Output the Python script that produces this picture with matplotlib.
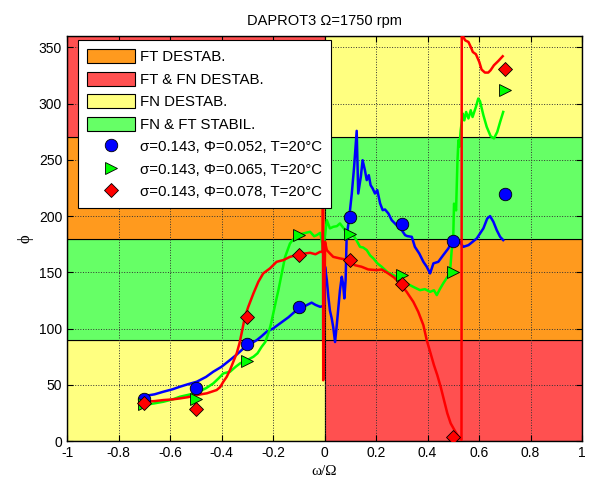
import numpy as np
import matplotlib
matplotlib.use('Agg')
import matplotlib.pyplot as plt
from matplotlib.patches import Rectangle, Patch
from matplotlib.lines import Line2D

plt.rcParams['font.family'] = ['Liberation Sans', 'DejaVu Sans']

# stability bands (phi limits) and their colours on each side of omega/Omega = 0
band_edges = [0, 90, 180, 270, 360]
orange = '#FF9A1E'
red = '#FF5050'
yellow = '#FFFF80'
green = '#66FF66'
left_colors = [yellow, green, orange, red]
right_colors = [red, orange, green, yellow]

band_labels = ['FT DESTAB.', 'FT & FN DESTAB.', 'FN DESTAB.', 'FN & FT STABIL.']
band_label_colors = [orange, red, yellow, green]

# measured markers
x_pts = [-0.7, -0.5, -0.3, -0.1, 0.1, 0.3, 0.5, 0.7]
phi_052 = [37, 47.4, 86.2, 119, 198.7, 192.5, 177.7, 219.4]
phi_065 = [32.9, 37.3, 71, 183.3, 183.9, 147.2, 149.8, 311.8]
phi_078 = [33.5, 28.4, 110.4, 165.2, 160.8, 139.5, 3.9, 331]

# continuous phase traces
blue_x = [-0.70, -0.66, -0.626, -0.59, -0.561, -0.53, -0.496, -0.46, -0.432, -0.40,
          -0.367, -0.34, -0.315, -0.29, -0.263, -0.245, -0.225, -0.20, -0.173, -0.14,
          -0.108, -0.09, -0.069, -0.05, -0.035, -0.017, -0.005, 0.0, 0.002, 0.009,
          0.015, 0.021, 0.028, 0.034, 0.041, 0.047, 0.060, 0.067, 0.072, 0.077,
          0.082, 0.086, 0.096, 0.106, 0.115, 0.125, 0.131, 0.141, 0.148, 0.157,
          0.164, 0.172, 0.179, 0.187, 0.196, 0.205, 0.216, 0.226, 0.235, 0.248,
          0.261, 0.280, 0.300, 0.313, 0.322, 0.339, 0.351, 0.368, 0.384, 0.397,
          0.410, 0.423, 0.442, 0.461, 0.481, 0.494, 0.50, 0.520, 0.539, 0.559,
          0.591, 0.617, 0.632, 0.643, 0.656, 0.669, 0.682, 0.694]
blue_y = [40, 41.5, 43.8, 46, 48.3, 50.5, 52.7, 57, 61.6, 66,
          72, 77, 82.3, 86, 89.7, 93, 97.1, 100, 104.5, 110,
          116.4, 118, 120.8, 123, 121, 119.3, 120, 122, 155, 143,
          128, 116, 109, 101, 88, 101.5, 134, 146, 140, 126.8,
          143, 181.5, 198.7, 220, 243.7, 275.7, 220, 234.8, 249.6, 240.7,
          231.9, 236.3, 227.4, 224.5, 220, 223, 211.2, 205.2, 205.8, 202.3,
          196.3, 191.9, 187.4, 183, 182.1, 181.5, 172.6, 166.7, 159.3, 154.9,
          149, 157.9, 159.3, 165.2, 171.2, 177, 178, 178.6, 172.6, 174.1,
          180, 189, 197.8, 199.9, 194.8, 187.4, 181.5, 178.6]

green_x = [-0.704, -0.66, -0.626, -0.59, -0.561, -0.53, -0.496, -0.46, -0.432, -0.41,
           -0.393, -0.367, -0.345, -0.328, -0.30, -0.276, -0.26, -0.244, -0.23, -0.218,
           -0.208, -0.199, -0.189, -0.179, -0.166, -0.153, -0.134, -0.108, -0.082, -0.056,
           -0.040, -0.030, -0.017, -0.011, -0.005, 0.003, 0.009, 0.021, 0.034, 0.048,
           0.060, 0.075, 0.086, 0.112, 0.125, 0.138, 0.150, 0.164, 0.177, 0.190,
           0.205, 0.222, 0.245, 0.267, 0.290, 0.319, 0.345, 0.371, 0.390, 0.410,
           0.425, 0.436, 0.448, 0.461, 0.475, 0.487, 0.494, 0.500, 0.503, 0.511,
           0.516, 0.520, 0.524, 0.529, 0.537, 0.543, 0.550, 0.559, 0.568, 0.575,
           0.588, 0.597, 0.604, 0.617, 0.630, 0.645, 0.658, 0.671, 0.682, 0.694]
green_y = [32, 33.5, 34.9, 37, 39.4, 41, 42.9, 47, 51.2, 56,
           60.1, 61.6, 66, 69, 72, 74.9, 78, 83.8, 88, 95.7,
           104, 113.4, 124, 134.1, 149, 163.7, 175.6, 183, 184.5, 186,
           182, 183, 185, 178.6, 170, 185, 196.3, 189, 190.4, 191,
           193.4, 189, 184.5, 183, 178, 172.6, 172, 169.7, 165, 162.3,
           158, 154.9, 150, 147.5, 145, 140.1, 137, 134.1, 135, 132.6,
           134, 129.7, 135, 140.1, 145, 149, 169.7, 181.5, 211, 205,
           246.7, 267.4, 261.5, 276.3, 291, 285, 292.5, 286.7, 294, 288,
           297, 304.4, 302, 289.6, 279.2, 271, 268.9, 274.8, 283.6, 292.5]

red_x = [-0.704, -0.66, -0.626, -0.59, -0.561, -0.53, -0.496, -0.457, -0.419, -0.405,
         -0.393, -0.38, -0.367, -0.355, -0.341, -0.33, -0.322, -0.309, -0.296, -0.276,
         -0.257, -0.238, -0.212, -0.186, -0.160, -0.134, -0.095, -0.056, -0.035, -0.017,
         -0.007, -0.006, -0.005, 0.002, 0.009, 0.021, 0.034, 0.060, 0.096, 0.118,
         0.144, 0.170, 0.203, 0.222, 0.244, 0.270, 0.293, 0.319, 0.345, 0.364,
         0.384, 0.397, 0.412, 0.425, 0.438, 0.451, 0.464, 0.477, 0.490, 0.503,
         0.516, 0.526, 0.532, 0.533, 0.546, 0.559, 0.568, 0.576, 0.588, 0.601,
         0.610, 0.623, 0.636, 0.645, 0.658, 0.675, 0.692]
red_y = [34.9, 35.5, 36.4, 37, 37.9, 39, 40.9, 42.4, 45.3, 48,
         52.7, 57, 63.1, 70, 77.9, 87, 95.7, 110.4, 119.3, 131.2,
         141.5, 149, 153.4, 159.3, 160.8, 163.7, 166.1, 167.3, 166, 168.2,
         168, 225, 54, 177, 169.7, 166.7, 163.7, 162.3, 160.8, 156.3,
         154.9, 152.5, 151.9, 152.5, 149.5, 145.4, 140.1, 132.6, 123.7, 114.9,
         103, 89.7, 77.9, 67.5, 58.6, 48.3, 36.4, 24.6, 15.7, 10.4,
         5.3, 2.4, 1, 362, 356.2, 354.7, 350.3, 345.8, 343.8, 337,
         330.2, 327.5, 327.5, 329.6, 334, 337.8, 342]

fig = plt.figure(figsize=(5.94, 4.84), dpi=100)
ax = fig.add_axes([0.1128, 0.0888, 0.8670, 0.8368])

# coloured stability bands
for i in range(len(band_edges) - 1):
    lo, hi = band_edges[i], band_edges[i + 1]
    ax.add_patch(Rectangle((-1, lo), 1, hi - lo, facecolor=left_colors[i],
                           edgecolor='k', lw=0.8, zorder=1))
    ax.add_patch(Rectangle((0, lo), 1, hi - lo, facecolor=right_colors[i],
                           edgecolor='k', lw=0.8, zorder=1))

ax.plot(blue_x, blue_y, color='#0000FF', lw=1.8, zorder=3)
ax.plot(green_x, green_y, color='#00FF00', lw=1.8, zorder=3)
ax.plot(red_x, red_y, color='#FF0000', lw=1.8, zorder=3)

ax.plot(x_pts, phi_052, 'o', color='#0000FF', mec='k', mew=0.6, ms=9, zorder=4)
ax.plot(x_pts, phi_065, '>', color='#00FF00', mec='k', mew=0.6, ms=9, zorder=4)
ax.plot(x_pts, phi_078, 'D', color='#FF0000', mec='k', mew=0.6, ms=7, zorder=4)

ax.set_xlim(-1, 1)
ax.set_ylim(0, 360)
ax.set_xticks(np.arange(-1, 1.01, 0.2))
ax.set_xticklabels(['-1', '-0.8', '-0.6', '-0.4', '-0.2', '0', '0.2', '0.4', '0.6', '0.8', '1'])
ax.set_yticks(np.arange(0, 351, 50))
ax.tick_params(direction='in', top=True, right=True, length=4, width=0.8,
               labelsize=10, colors='k')
ax.set_axisbelow('line')
ax.grid(True, color='#333333', linestyle=':', lw=0.7)
for s in ax.spines.values():
    s.set_linewidth(1.0)

ax.set_title('DAPROT3 \u03a9=1750 rpm', fontsize=10.5, pad=8)
ax.set_xlabel('\u03c9/\u03a9', fontsize=11, family=['Liberation Serif', 'DejaVu Serif'], labelpad=4)
ax.set_ylabel('\u03d5', fontsize=12, family=['Liberation Serif', 'DejaVu Serif'], labelpad=4)

handles = [Patch(facecolor=c, edgecolor='k', lw=0.8) for c in band_label_colors]
handles += [
    Line2D([], [], ls='none', marker='o', color='#0000FF', mec='k', mew=0.6, ms=9),
    Line2D([], [], ls='none', marker='>', color='#00FF00', mec='k', mew=0.6, ms=9),
    Line2D([], [], ls='none', marker='D', color='#FF0000', mec='k', mew=0.6, ms=7),
]
labels = band_labels + ['\u03c3=0.143, \u03a6=0.052, T=20\u00b0C',
                        '\u03c3=0.143, \u03a6=0.065, T=20\u00b0C',
                        '\u03c3=0.143, \u03a6=0.078, T=20\u00b0C']
leg = ax.legend(handles, labels, loc='upper left', bbox_to_anchor=(0.021, 0.99),
                fontsize=10.8, frameon=True, fancybox=False, framealpha=1,
                edgecolor='k', handlelength=3.2, handleheight=1.1,
                labelspacing=0.48, handletextpad=0.35, borderpad=0.6,
                borderaxespad=0)
leg.get_frame().set_linewidth(0.8)
leg.set_zorder(10)

plt.savefig('out.png', dpi=100)
